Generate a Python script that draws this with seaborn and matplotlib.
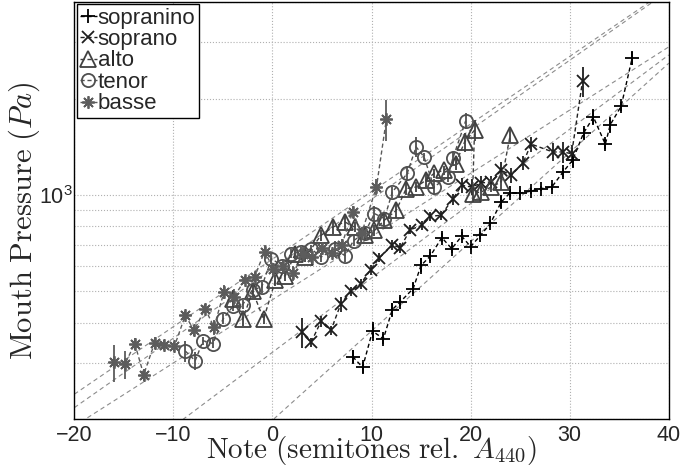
import numpy as np
import pandas as pd
import matplotlib
matplotlib.use("Agg")
import matplotlib.pyplot as plt
import seaborn as sns

# ------------------------------------------------------------
# data (note in semitones rel. A440, pressure in Pa)
# ------------------------------------------------------------
series_names = ["sopranino", "soprano", "alto", "tenor", "basse"]

sopranino_note = [8.1, 9.1, 10.1, 11.2, 12.1, 12.9, 14.2, 15.0, 15.9, 17.1, 18.1, 19.1, 20.0, 21.0,
                  22.0, 23.1, 24.0, 25.0, 26.1, 27.1, 28.2, 29.3, 30.3, 31.4, 32.4, 33.6, 34.1, 35.2, 36.3]
sopranino_p = [313, 290, 376, 356, 439, 464, 510, 603, 643, 736, 680, 744, 690, 748,
               815, 951, 1017, 1014, 1028, 1047, 1059, 1176, 1284, 1559, 1750, 1440, 1657, 1892, 2667]
sopranino_err = [15, 12, 25, 12, 20, 15, 20, 35, 20, 25, 20, 20, 15, 20,
                 20, 40, 30, 20, 20, 20, 20, 40, 70, 60, 100, 50, 100, 60, 120]

soprano_note = [3.0, 3.9, 4.9, 5.9, 6.9, 7.9, 8.9, 9.9, 10.8, 12.1, 12.9, 13.9, 15.1, 15.9,
                17.0, 18.2, 19.1, 20.1, 21.1, 22.1, 23.1, 24.1, 25.3, 26.1, 28.3, 29.3, 30.2, 31.3]
soprano_p = [373, 347, 403, 378, 457, 500, 528, 584, 637, 697, 685, 779, 804, 858,
             864, 970, 1072, 1059, 1090, 1099, 1194, 1153, 1259, 1442, 1362, 1362, 1346, 2265]
soprano_err = [40, 12, 15, 12, 25, 15, 20, 20, 20, 25, 25, 25, 25, 30,
               30, 40, 60, 60, 60, 50, 70, 60, 60, 80, 90, 100, 90, 250]

alto_note = [-4.0, -3.0, -2.0, -0.9, 0.3, 1.3, 2.3, 3.3, 4.9, 6.1, 7.3, 8.3, 9.3, 10.3, 11.3,
             12.5, 13.5, 14.5, 15.5, 16.3, 17.3, 18.5, 19.4, 20.4, 20.2, 21.1, 22.1, 23.1, 24.0]
alto_p = [474, 410, 501, 410, 541, 560, 656, 640, 748, 794, 824, 794, 748, 775, 834,
          896, 1047, 1059, 1112, 1167, 1195, 1253, 1465, 1592, 1010, 1023, 1059, 1099, 1538]
alto_err = [30, 20, 20, 15, 20, 20, 25, 20, 30, 40, 40, 30, 30, 30, 40,
            50, 50, 40, 50, 40, 40, 60, 100, 120, 60, 50, 40, 60, 80]

tenor_note = [-8.8, -7.8, -7.0, -6.0, -5.0, -4.0, -3.0, -2.0, -1.1, -0.1, 1.0, 1.9, 2.9, 3.9, 4.9,
              6.3, 7.3, 8.2, 9.3, 10.3, 11.3, 12.1, 13.6, 14.5, 15.3, 16.3, 17.7, 18.2, 19.5]
tenor_p = [326, 304, 351, 344, 410, 449, 455, 507, 515, 633, 600, 656, 664, 680, 640,
           680, 647, 721, 760, 875, 844, 1021, 1167, 1413, 1315, 1059, 1138, 1300, 1702]
tenor_err = [25, 20, 10, 12, 15, 15, 15, 15, 20, 25, 20, 20, 25, 20, 20,
             40, 30, 30, 30, 50, 40, 40, 60, 100, 40, 60, 40, 60, 100]

basse_note = [-16.0, -14.9, -13.9, -13.0, -11.9, -10.9, -9.9, -8.8, -7.9, -6.8, -5.9, -4.9, -3.9, -2.8,
              -1.8, -0.8, 0.1, 1.1, 2.1, 3.1, 4.0, 5.0, 6.0, 7.0, 8.1, 9.0, 10.5, 11.5]
basse_p = [301, 296, 344, 275, 345, 340, 337, 421, 378, 442, 387, 497, 480, 542,
           555, 666, 589, 600, 569, 656, 640, 681, 660, 700, 885, 760, 1059, 1722]
basse_err = [40, 30, 15, 12, 15, 12, 10, 15, 15, 15, 20, 25, 30, 15,
             20, 30, 25, 25, 30, 35, 40, 25, 20, 30, 40, 30, 60, 250]

# grey dashed trend lines (value in Pa at note -20 and at note 40)
fit_p_left = [55, 111, 217, 190, 239]
fit_p_right = [2576, 2735, 4335, 2897, 4395]

notes = [sopranino_note, soprano_note, alto_note, tenor_note, basse_note]
pressures = [sopranino_p, soprano_p, alto_p, tenor_p, basse_p]
errors = [sopranino_err, soprano_err, alto_err, tenor_err, basse_err]

colors = ["#000000", "#1e1e1e", "#404040", "#4f4f4f", "#5c5c5c"]
markers = ["+", "x", "^", "o", (8, 2, 0)]
msizes = [10, 8, 11, 9.5, 9]

# ------------------------------------------------------------
# plot
# ------------------------------------------------------------
sns.set_style("white")
plt.rcParams["font.family"] = ["Liberation Sans", "DejaVu Sans"]
plt.rcParams["mathtext.fontset"] = "cm"

fig = plt.figure(figsize=(6.8, 4.7), dpi=100)
ax = fig.add_axes([0.1093, 0.1085, 0.8741, 0.8872])

x_fit = [-20, 40]
for i in range(len(series_names)):
    fit_df = pd.DataFrame({"note": x_fit, "p": [fit_p_left[i], fit_p_right[i]]})
    sns.lineplot(data=fit_df, x="note", y="p", ax=ax, color="#8c8c8c",
                 linestyle=(0, (4, 3)), linewidth=0.8, zorder=1)

for i, name in enumerate(series_names):
    df = pd.DataFrame({"note": notes[i], "p": pressures[i], "err": errors[i]})
    ax.errorbar(df["note"], df["p"], yerr=df["err"], fmt="none",
                ecolor=colors[i], elinewidth=1.3, capsize=0, zorder=2)
    sns.lineplot(data=df, x="note", y="p", ax=ax, sort=False, estimator=None,
                 color=colors[i], linestyle=(0, (3, 2)), linewidth=1.0,
                 marker=markers[i], markersize=msizes[i], markeredgewidth=1.3,
                 markerfacecolor="none", markeredgecolor=colors[i],
                 label=name, zorder=3)

ax.set_yscale("log")
ax.set_xlim(-20, 40)
ax.set_ylim(200, 4000)
ax.set_xticks(range(-20, 41, 10))
ax.set_xticklabels(["\u221220", "\u221210", "0", "10", "20", "30", "40"])

ax.grid(True, which="major", color="#b0b0b0", linestyle=":", linewidth=0.8)
ax.grid(True, which="minor", axis="y", color="#b0b0b0", linestyle=":", linewidth=0.8)
ax.tick_params(axis="both", which="both", direction="in", labelsize=15.5)
ax.tick_params(axis="x", which="major", length=5, width=0.8, pad=4)
ax.tick_params(axis="y", which="major", length=5, width=0.8, pad=1)
ax.tick_params(axis="y", which="minor", length=3, width=0.6, labelleft=False)
for s in ax.spines.values():
    s.set_color("black")
    s.set_linewidth(1.0)

ax.set_xlabel(r"$\mathrm{Note\ (semitones\ rel.\ }A_{440}\mathrm{)}$", fontsize=21)
ax.set_ylabel(r"$\mathrm{Mouth\ Pressure\ (}Pa\mathrm{)}$", fontsize=22)
ax.xaxis.set_label_coords(0.5, -0.036)
ax.yaxis.set_label_coords(-0.054, 0.475)

leg = ax.legend(loc="upper left", fontsize=16, handlelength=0.75, handletextpad=0.05,
                labelspacing=0.02, borderpad=0.15, borderaxespad=0.1,
                frameon=True, fancybox=False, framealpha=1)
leg.get_frame().set_edgecolor("black")
leg.get_frame().set_linewidth(1.0)

fig.savefig("out.png", dpi=100)
